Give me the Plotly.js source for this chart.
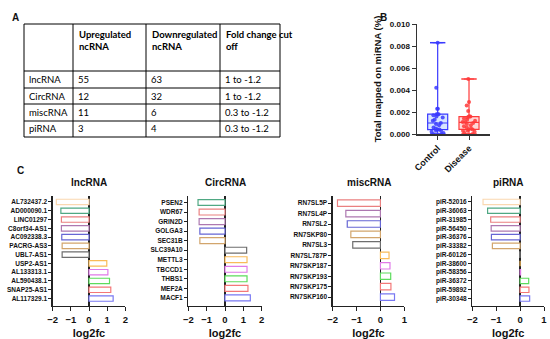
<!DOCTYPE html>
<html><head><meta charset="utf-8">
<script src="https://cdn.plot.ly/plotly-3.0.1.min.js"></script>
<style>html,body{margin:0;padding:0;background:#fff}#chart{width:550px;height:339px}</style>
</head><body><div id="chart"></div>
<script>
// ---------- Panel A: table ----------
const tableTypes = ['lncRNA','CircRNA','miscRNA','piRNA'];
const upregulated = [55,12,11,3];
const downregulated = [63,32,6,4];
const foldCutoff = ['1 to -1.2','1 to -1.2','0.3 to -1.2','0.3 to -1.2'];
const tableHeaders = ['', 'Upregulated<br>ncRNA', 'Downregulated<br>ncRNA', 'Fold change cut<br>off'];

// ---------- Panel B: box plot ----------
const groupLabels = ['Control','Disease'];
const controlVals = [0.0000,0.0000,0.0001,0.0002,0.0003,0.0003,0.0004,0.0004,0.0005,0.0006,0.0008,0.0009,0.0010,0.0012,0.0013,0.0015,0.0016,0.0017,0.0018,0.0018,0.0018,0.0023,0.0023,0.0042,0.0083];
const diseaseVals = [0.0000,0.0001,0.0002,0.0003,0.0003,0.0004,0.0004,0.0005,0.0006,0.0007,0.0008,0.0009,0.0010,0.0011,0.0011,0.0012,0.0013,0.0014,0.0015,0.0016,0.0016,0.0016,0.0021,0.0026,0.0029,0.0050];
const bTickVals = [0,0.002,0.004,0.006,0.008,0.010];
const bTickText = ['0.000','0.002','0.004','0.006','0.008','0.010'];

// ---------- Panel C: log2fc bars (top to bottom) ----------
const lncGenes = ['AL732437.2','AD000090.1','LINC01297','C8orf34-AS1','AC092338.3','PACRG-AS3','UBL7-AS1','USP2-AS1','AL133313.1','AL590438.1','SNAP25-AS1','AL117329.1'];
const lncFC = [-1.8,-1.55,-1.52,-1.52,-1.5,-1.48,-1.48,0.98,1.04,1.13,1.2,1.33];
const circGenes = ['PSEN2','WDR67','GRIN2D','GOLGA3','SEC31B','SLC39A10','METTL3','TBCCD1','THBS1','MEF2A','MACF1'];
const circFC = [-1.47,-1.41,-1.41,-1.37,-1.37,1.18,1.2,1.2,1.2,1.25,1.38];
const miscGenes = ['RN7SL5P','RN7SL4P','RN7SL2','RN7SKP80','RN7SL3','RN7SL787P','RN7SKP187','RN7SKP193','RN7SKP175','RN7SKP160'];
const miscFC = [-1.8,-1.45,-1.39,-1.24,-1.16,0.36,0.4,0.43,0.44,0.59];
const piGenes = ['piR-52016','piR-36063','piR-31985','piR-56450','piR-36376','piR-33382','piR-60126','piR-38600','piR-58356','piR-36372','piR-59892','piR-30348'];
const piFC = [-1.55,-1.36,-1.23,-1.21,-1.2,-1.16,-0.02,0,0.02,0.36,0.37,0.4];
const cTitles = ['lncRNA','CircRNA','miscRNA','piRNA'];

// palette listed from bottom bar upward
const palette = ['#7878f2','#f47878','#5cdc5c','#e07ae8','#f9bb58','#6e6e6e','#d2a56c','#6666d4','#ad78b0','#ea8080','#4fa883','#fad8b0'];

const W = 550, H = 339;
const px = v => v / W, py = v => 1 - v / H;
const BF = 'Liberation Sans, Arial, sans-serif';
const TF = 'Lato, Liberation Sans, sans-serif';

function quant(arr, p) {
  const s = arr.slice().sort((a,b)=>a-b);
  const pos = p*(s.length-1), lo = Math.floor(pos), hi = Math.ceil(pos);
  return s[lo] + (s[hi]-s[lo])*(pos-lo);
}

const traces = [];
const annotations = [
  {text:'A', x:px(10), y:py(10), xref:'paper', yref:'paper', showarrow:false, font:{family:BF,size:10,weight:'bold',color:'#111'}},
  {text:'B', x:px(389), y:py(10), xref:'paper', yref:'paper', showarrow:false, font:{family:BF,size:10,weight:'bold',color:'#111'}},
  {text:'C', x:px(15), y:py(170), xref:'paper', yref:'paper', showarrow:false, font:{family:BF,size:10,weight:'bold',color:'#111'}}
];
const shapes = [];

// ---- Table grid + text (layout geometry in pixels) ----
const colEdges = [24, 73, 146, 220, 280];
const rowEdges = [24, 71, 88, 104, 121, 137];
colEdges.forEach(x => shapes.push({type:'line', xref:'paper', yref:'paper', x0:px(x), x1:px(x), y0:py(rowEdges[0]), y1:py(rowEdges[rowEdges.length-1]), line:{color:'#000', width:1}}));
rowEdges.forEach(y => shapes.push({type:'line', xref:'paper', yref:'paper', x0:px(colEdges[0]), x1:px(colEdges[colEdges.length-1]), y0:py(y), y1:py(y), line:{color:'#000', width:1}}));
tableHeaders.forEach((h, c) => {
  if (!h) return;
  annotations.push({text:h, xref:'paper', yref:'paper', x:px(colEdges[c]+4), y:py(rowEdges[0]+3), xanchor:'left', yanchor:'top', align:'left',
    showarrow:false, font:{family:TF, size:9.5, color:'#000', weight:'bold'}});
});
const tableCols = [tableTypes, upregulated, downregulated, foldCutoff];
tableCols.forEach((col, c) => col.forEach((v, r) => {
  annotations.push({text:String(v), xref:'paper', yref:'paper', x:px(colEdges[c]+3), y:py((rowEdges[r+1]+rowEdges[r+2])/2),
    xanchor:'left', yanchor:'middle', showarrow:false, font:{family:TF, size:9.5, color:'#000'}});
}));

// Box plot
const groups = [
  {vals:controlVals, line:'#3a3aff', fill:'rgba(140,180,255,0.35)', pt:'#3a3aff'},
  {vals:diseaseVals, line:'#ff3a3a', fill:'rgba(255,140,140,0.35)', pt:'#ff3a3a'}
];
groups.forEach((g,i)=>{
  const lab = groupLabels[i];
  traces.push({type:'box', x:[lab], q1:[quant(g.vals,0.25)], median:[quant(g.vals,0.5)], q3:[quant(g.vals,0.75)],
    lowerfence:[Math.min(...g.vals)], upperfence:[Math.max(...g.vals)], width:0.64,
    fillcolor:g.fill, line:{color:g.line,width:1.2}, boxpoints:false, xaxis:'x', yaxis:'y', hoverinfo:'skip'});
  traces.push({type:'box', x:g.vals.map(()=>lab), y:g.vals, boxpoints:'all', jitter:0.75, pointpos:0,
    fillcolor:'rgba(0,0,0,0)', line:{color:'rgba(0,0,0,0)',width:0}, width:0.64,
    marker:{color:g.pt, size:4, opacity:0.85}, xaxis:'x', yaxis:'y'});
  traces.push({type:'scatter', mode:'markers', x:[lab,lab], y:[Math.min(...g.vals),Math.max(...g.vals)],
    marker:{symbol:'line-ew', size:11, line:{color:g.line,width:1.5}}, xaxis:'x', yaxis:'y', hoverinfo:'skip'});
});

// Panel C bars
const cData = [[lncGenes,lncFC],[circGenes,circFC],[miscGenes,miscFC],[piGenes,piFC]];
const cXDom = [[52.7,125.3],[188.3,261.7],[332.7,404.3],[472.3,544]];
const cRanges = [[-2,2],[-2,2],[-2,1],[-2,1]];
const layout = {
  width:W, height:H, margin:{l:0,r:0,t:0,b:0}, showlegend:false,
  paper_bgcolor:'#fff', plot_bgcolor:'rgba(0,0,0,0)', boxmode:'overlay',
  xaxis:{domain:[px(417),px(490)], anchor:'y', type:'category', categoryarray:groupLabels, range:[-0.66,1.67],
    showline:true, linecolor:'#333', linewidth:1.5, ticks:'outside', ticklen:4, tickcolor:'#333',
    tickangle:-45, tickfont:{family:BF, size:9, color:'#111', weight:'bold'}, showgrid:false, zeroline:false, fixedrange:true},
  yaxis:{domain:[py(134),py(24)], anchor:'x', range:[0,0.010], tickvals:bTickVals, ticktext:bTickText,
    showline:true, linecolor:'#333', linewidth:1.5, ticks:'outside', ticklen:4, tickcolor:'#333',
    tickfont:{family:BF, size:8, color:'#111', weight:'bold'}, showgrid:false, zeroline:false,
    title:{text:'Total mapped on miRNA (%)', font:{family:BF, size:9.5, color:'#111', weight:'bold'}, standoff:6}},
  annotations:annotations,
  shapes:shapes
};

cData.forEach((d,k)=>{
  const [genes, fc] = d;
  const n = genes.length;
  const xa = 'x'+(k+2), ya = 'y'+(k+2);
  traces.push({type:'bar', orientation:'h', x:fc, y:genes, width:0.62,
    marker:{color:'#fff', line:{color:genes.map((_,i)=>palette[n-1-i]), width:1.2}},
    xaxis:xa, yaxis:ya});
  layout['xaxis'+(k+2)] = {domain:[px(cXDom[k][0]),px(cXDom[k][1])], anchor:ya, range:cRanges[k],
    tickvals:[-2,-1,0,1,2], showline:true, linecolor:'#222', linewidth:1.3, ticks:'outside', ticklen:4, tickcolor:'#222',
    tickfont:{family:BF, size:9.5, color:'#111', weight:'bold'}, showgrid:false,
    zeroline:true, zerolinecolor:'#222', zerolinewidth:1.5,
    title:{text:'log2fc', font:{family:BF, size:11, color:'#111', weight:'bold'}, standoff:5}};
  layout['yaxis'+(k+2)] = {domain:[py(306),py(196)], anchor:xa, type:'category', categoryarray:genes,
    range:[n-1+0.85,-0.68], showline:true, linecolor:'#222', linewidth:1.3, ticks:'outside', ticklen:3, tickcolor:'#222',
    tickfont:{family:BF, size:6.5, color:'#111', weight:'bold'}, showgrid:false, zeroline:false};
  annotations.push({text:cTitles[k], xref:xa+' domain', x:0.5, yref:'paper', y:py(182), showarrow:false,
    font:{family:BF, size:10, color:'#111', weight:'bold'}});
});

Plotly.newPlot('chart', traces, layout, {staticPlot:true, displayModeBar:false});
</script></body></html>
